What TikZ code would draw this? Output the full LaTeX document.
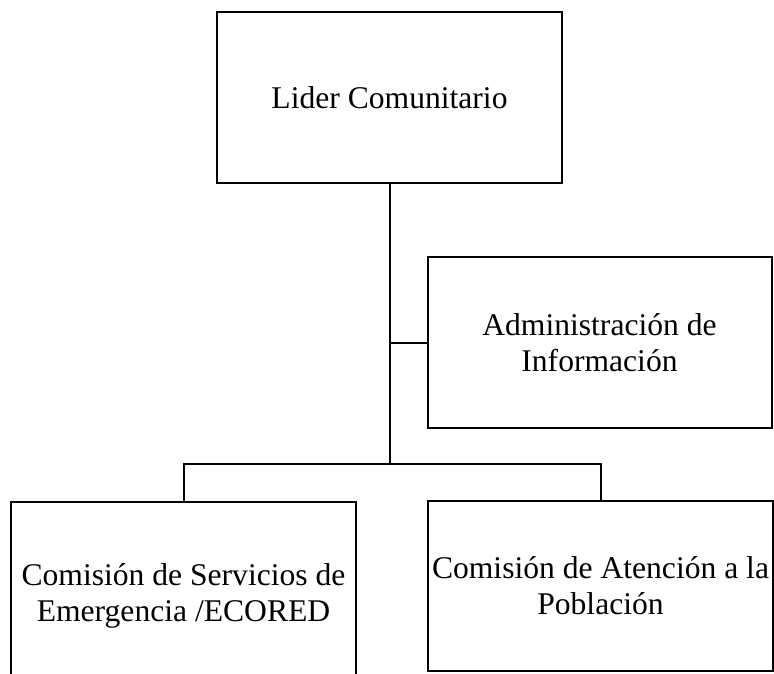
\documentclass[tikz,border=0pt]{standalone}
\usepackage{fontspec}
\setmainfont{Liberation Serif}
\begin{document}
\begin{tikzpicture}[x=1pt,y=-1pt,
  orgbox/.style={draw=black, line width=2pt, inner sep=0pt, align=center,
    font=\fontsize{31.6}{36}\selectfont},
  link/.style={draw=black, line width=2pt}]
\useasboundingbox (0,0) rectangle (774,673);
\clip (0,0) rectangle (774,673);
\node[orgbox, minimum width=345pt, minimum height=171pt] (lider) at (389.5,97.5) {Lider Comunitario};
\node[orgbox, minimum width=344pt, minimum height=171pt] (admin) at (599.5,342.5) {Administración de\\Información};
\node[orgbox, minimum width=345pt, minimum height=188pt] (ces) at (183.5,596) {Comisión de Servicios de\\Emergencia /ECORED};
\node[orgbox, minimum width=345pt, minimum height=170pt] (cap) at (600.5,586) {Comisión de Atención a la\\Población};
\coordinate (j2) at (389.5,464);
\draw[link] (lider.south) -- (j2);
\draw[link] (lider.south |- admin.west) -- (admin.west);
\draw[link] (ces.north) -- (ces.north |- j2) -- (cap.north |- j2) -- (cap.north);
\end{tikzpicture}
\end{document}
